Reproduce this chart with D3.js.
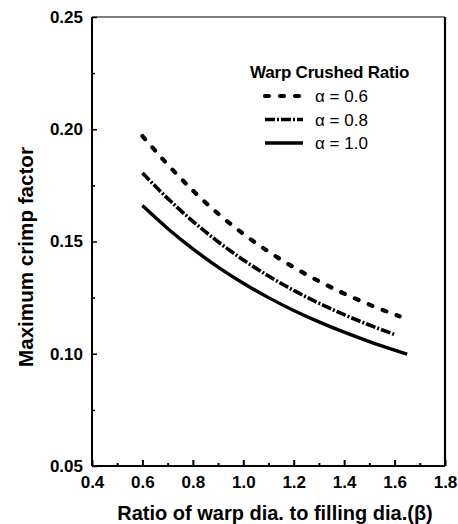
<!DOCTYPE html>
<html><head><meta charset="utf-8">
<script src="https://cdn.jsdelivr.net/npm/d3@7"></script>
<style>body{margin:0;background:#fff}svg{display:block}text{font-family:"Liberation Sans",Arial,sans-serif;fill:#000}</style>
</head><body>
<script>
const xTicks=[0.4,0.6,0.8,1.0,1.2,1.4,1.6,1.8];
const yTicks=[0.05,0.10,0.15,0.20,0.25];
const beta06=[0.6,0.7,0.8,0.9,1.0,1.1,1.2,1.3,1.4,1.5,1.6,1.62];
const alpha06=[0.197,0.1843,0.1727,0.1624,0.1534,0.1455,0.1385,0.1323,0.1268,0.1219,0.1175,0.1167];
const beta08=[0.6,0.7,0.8,0.9,1.0,1.1,1.2,1.3,1.4,1.5,1.6];
const alpha08=[0.1805,0.1692,0.1590,0.1499,0.1418,0.1346,0.1282,0.1225,0.1174,0.1128,0.1086];
const beta10=[0.6,0.7,0.8,0.9,1.0,1.1,1.2,1.3,1.4,1.5,1.6,1.65];
const alpha10=[0.166,0.1558,0.1467,0.1386,0.1314,0.1250,0.1193,0.1142,0.1096,0.1054,0.1016,0.0998];
const seriesNames=["α = 0.6","α = 0.8","α = 1.0"];

const W=458,H=524,L=92,R=445,T=17,B=466;
const svg=d3.select("body").append("svg").attr("width",W).attr("height",H);
const x=d3.scaleLinear().domain([0.4,1.8]).range([L,R]);
const y=d3.scaleLinear().domain([0.05,0.25]).range([B,T]);

// frame
svg.append("line").attr("x1",L).attr("x2",R).attr("y1",T).attr("y2",T).attr("stroke","#000").attr("stroke-width",1.2);
svg.append("line").attr("x1",L).attr("x2",R).attr("y1",B).attr("y2",B).attr("stroke","#000").attr("stroke-width",2.2);
svg.append("line").attr("x1",L).attr("x2",L).attr("y1",T).attr("y2",B).attr("stroke","#000").attr("stroke-width",2);
svg.append("line").attr("x1",R).attr("x2",R).attr("y1",T).attr("y2",B).attr("stroke","#000").attr("stroke-width",2.2);

// axes with inward ticks
const xMinor=d3.range(0.5,1.8,0.2);
const yMinor=[0.075,0.125,0.175,0.225];
const gx=svg.append("g").attr("transform",`translate(0,${B})`)
  .call(d3.axisBottom(x).tickValues(xTicks).tickFormat(d3.format(".1f")).tickSizeInner(-6).tickSizeOuter(0).tickPadding(10));
gx.select(".domain").remove();
gx.selectAll("line").attr("stroke-width",2);
gx.selectAll("text").attr("font-size",17).attr("font-weight","bold");
const gxm=svg.append("g").attr("transform",`translate(0,${B})`)
  .call(d3.axisBottom(x).tickValues(xMinor).tickFormat("").tickSizeInner(-3).tickSizeOuter(0));
gxm.select(".domain").remove(); gxm.selectAll("line").attr("stroke-width",2);

const gy=svg.append("g").attr("transform",`translate(${L},0)`)
  .call(d3.axisLeft(y).tickValues(yTicks).tickFormat(d3.format(".2f")).tickSizeInner(-5).tickSizeOuter(0).tickPadding(9));
gy.select(".domain").remove();
gy.selectAll("line").attr("stroke-width",1.5);
gy.selectAll("text").attr("font-size",17).attr("font-weight","bold");
const gym=svg.append("g").attr("transform",`translate(${L},0)`)
  .call(d3.axisLeft(y).tickValues(yMinor).tickFormat("").tickSizeInner(-3).tickSizeOuter(0));
gym.select(".domain").remove(); gym.selectAll("line").attr("stroke-width",1.5);

// axis titles
svg.append("text").attr("x",275).attr("y",520).attr("text-anchor","middle")
  .attr("font-size",20).attr("font-weight","bold").text("Ratio of warp dia. to filling dia.(β)");
svg.append("text").attr("transform","translate(33,257) rotate(-90)").attr("text-anchor","middle")
  .attr("font-size",19.5).attr("font-weight","bold")
  .attr("textLength",220).attr("lengthAdjust","spacingAndGlyphs").text("Maximum crimp factor");

// lines
const styles=[
  {dash:"4,11",w:4.2,cap:"round"},
  {dash:"10,2,2,2",w:3.6,cap:"butt"},
  {dash:null,w:3.4,cap:"butt"}
];
const data=[beta06.map((b,i)=>[b,alpha06[i]]),beta08.map((b,i)=>[b,alpha08[i]]),beta10.map((b,i)=>[b,alpha10[i]])];
const line=d3.line().x(d=>x(d[0])).y(d=>y(d[1])).curve(d3.curveMonotoneX);
data.forEach((d,i)=>{
  const p=svg.append("path").attr("d",line(d)).attr("fill","none").attr("stroke","#000")
    .attr("stroke-width",styles[i].w).attr("stroke-linecap",styles[i].cap);
  if(styles[i].dash) p.attr("stroke-dasharray",styles[i].dash);
});

// legend
svg.append("text").attr("x",250).attr("y",78).attr("font-size",17).attr("font-weight","bold")
  .attr("letter-spacing","-0.2").text("Warp Crushed Ratio");
seriesNames.forEach((n,i)=>{
  const yy=96+i*23.5;
  const l=svg.append("line").attr("x1",265).attr("x2",303).attr("y1",yy).attr("y2",yy)
    .attr("stroke","#000").attr("stroke-width",styles[i].w).attr("stroke-linecap",styles[i].cap);
  if(styles[i].dash) l.attr("stroke-dasharray",styles[i].dash);
  svg.append("text").attr("x",315).attr("y",yy+6).attr("font-size",17).text(n);
});
</script>
</body></html>
